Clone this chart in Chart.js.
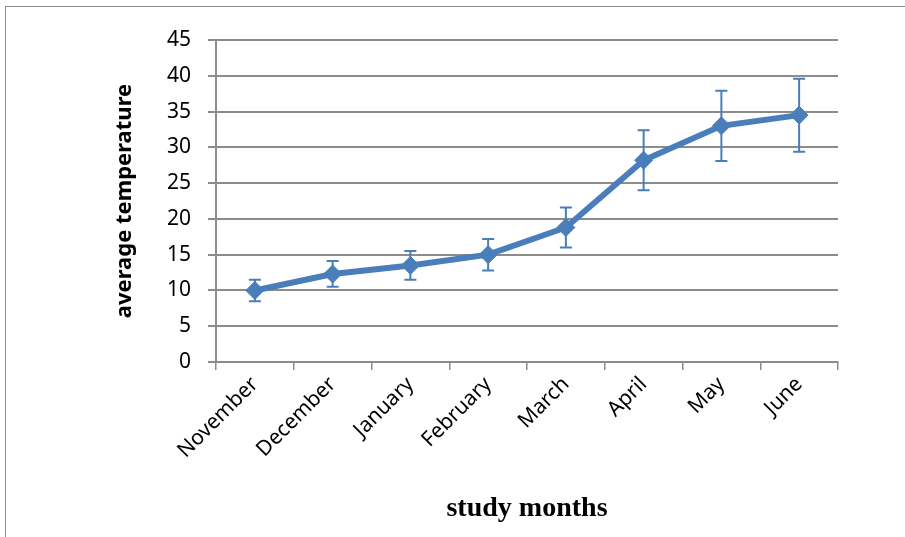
<!DOCTYPE html>
<html>
<head>
<meta charset="utf-8">
<script src="https://cdn.jsdelivr.net/npm/chart.js@4"></script>
<style>
  body { margin: 0; background: #fff; }
  #frame { position: absolute; left: 5px; top: 6px; width: 910px; height: 540px; border-left: 1px solid #8c8c8c; border-top: 1px solid #8c8c8c; }
  #wrap { position: absolute; left: 0; top: 0; width: 905px; height: 537px; }
</style>
</head>
<body>
<div id="frame"></div>
<div id="wrap"><canvas id="grafico"></canvas></div>
<script>
// dados
const meses = ['November', 'December', 'January', 'February', 'March', 'April', 'May', 'June'];
const temperatura = [10.0, 12.3, 13.5, 15.0, 18.8, 28.2, 33.0, 34.5];
const erro = [1.5, 1.8, 2.0, 2.2, 2.8, 4.2, 4.9, 5.1]; // barras de erro (+/-)
const ticksY = [0, 5, 10, 15, 20, 25, 30, 35, 40, 45];

const azul = '#4a7ebb';
const cinza = '#8c8c8c';

// plugin simples para desenhar as barras de erro
const barrasErro = {
  id: 'barrasErro',
  afterDatasetsDraw(chart) {
    const ctx = chart.ctx;
    const meta = chart.getDatasetMeta(0);
    const y = chart.scales.y;
    ctx.save();
    ctx.strokeStyle = azul;
    ctx.lineWidth = 2;
    meta.data.forEach(function(pt, i) {
      const topo = y.getPixelForValue(temperatura[i] + erro[i]);
      const base = y.getPixelForValue(temperatura[i] - erro[i]);
      ctx.beginPath();
      ctx.moveTo(pt.x, topo); ctx.lineTo(pt.x, base);
      ctx.moveTo(pt.x - 6, topo); ctx.lineTo(pt.x + 6, topo);
      ctx.moveTo(pt.x - 6, base); ctx.lineTo(pt.x + 6, base);
      ctx.stroke();
    });
    ctx.restore();
  }
};

const fonteTicks = { family: 'Noto Sans', size: 21 };

const grafico = new Chart(document.getElementById('grafico'), {
  type: 'line',
  data: {
    labels: meses,
    datasets: [{
      data: temperatura,
      borderColor: azul,
      backgroundColor: azul,
      borderWidth: 6,
      pointStyle: 'rectRot',
      pointRadius: 9,
      pointBorderWidth: 1,
      tension: 0
    }]
  },
  options: {
    responsive: true,
    maintainAspectRatio: false,
    animation: false,
    layout: { padding: { left: 112, right: 67, top: 40, bottom: 0 } },
    plugins: {
      legend: { display: false },
      tooltip: { enabled: false }
    },
    scales: {
      x: {
        offset: true,
        afterFit: function(s) { s.height = 175; },
        grid: { offset: true, drawOnChartArea: false, color: cinza, lineWidth: 1.5, tickLength: 8 },
        border: { color: cinza, width: 2 },
        ticks: { color: '#000', font: fonteTicks, minRotation: 45, maxRotation: 45, padding: 2 },
        title: {
          display: true,
          text: 'study months',
          color: '#000',
          font: { family: 'Liberation Serif', size: 28, weight: 'bold' },
          padding: { top: 0, bottom: 11 }
        }
      },
      y: {
        min: 0,
        max: 45,
        afterFit: function(s) { s.width = 104; },
        afterBuildTicks: function(s) { s.ticks = ticksY.map(v => ({ value: v })); },
        grid: { color: cinza, lineWidth: 2, tickLength: 8 },
        border: { color: cinza, width: 2 },
        ticks: { color: '#000', font: fonteTicks, padding: 17 },
        title: {
          display: true,
          text: 'average temperature',
          color: '#000',
          font: { family: 'Noto Sans', size: 22, weight: 'bold' },
          padding: 0
        }
      }
    }
  },
  plugins: [barrasErro]
});
</script>
</body>
</html>
